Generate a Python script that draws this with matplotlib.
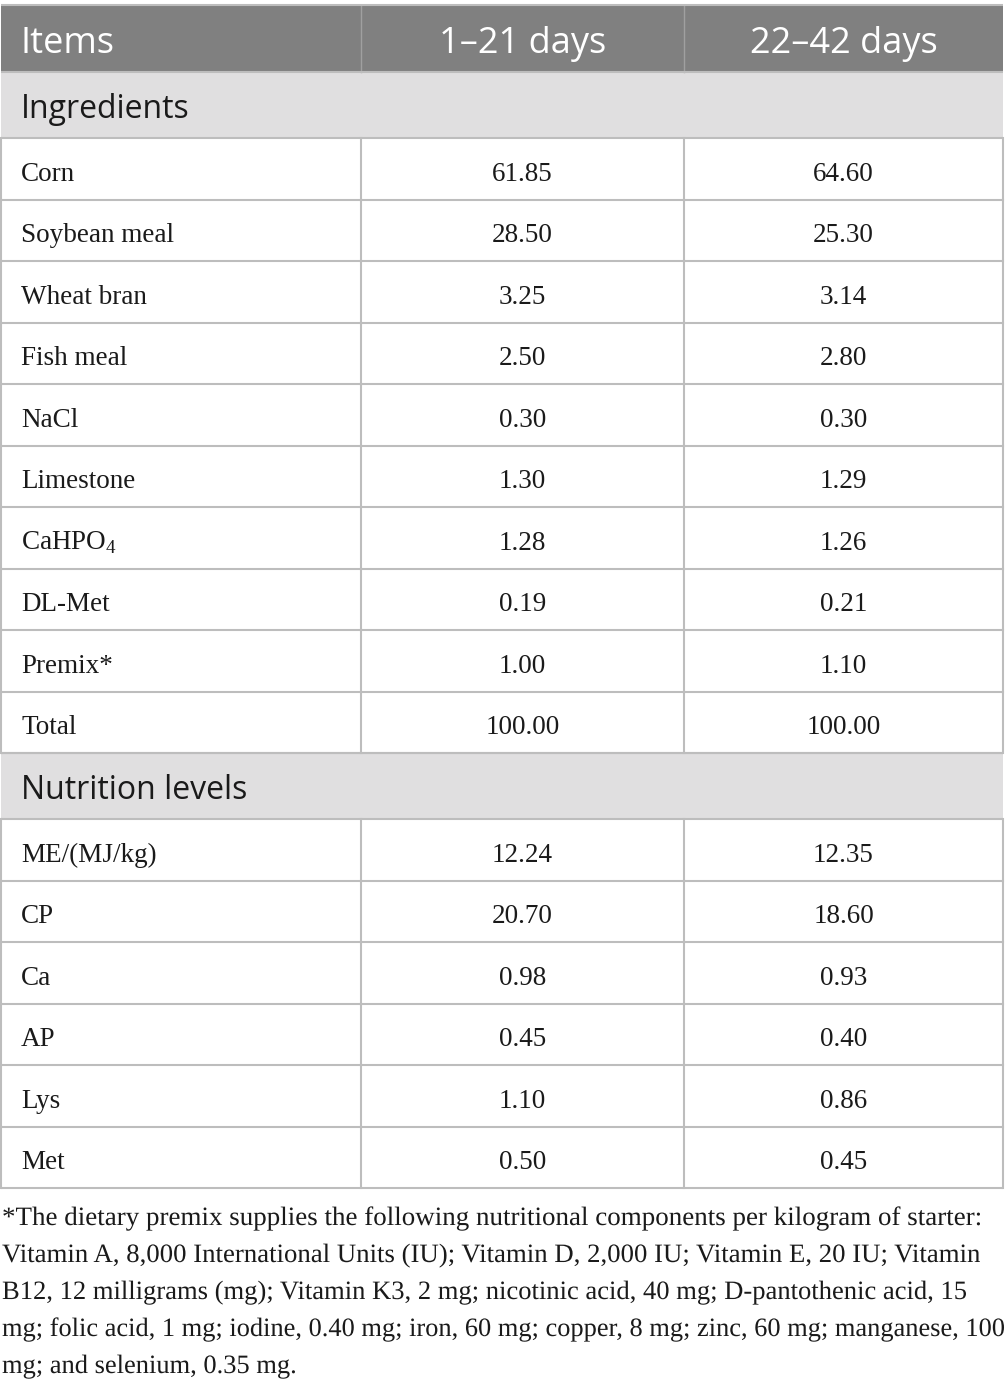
import matplotlib.pyplot as plt
from matplotlib.patches import Rectangle, PathPatch
from matplotlib.textpath import TextPath
from matplotlib.font_manager import FontProperties
import matplotlib.transforms as mtransforms

plt.rcParams['mathtext.fontset'] = 'custom'
plt.rcParams['mathtext.rm'] = 'Liberation Serif'

header = ['Items', '1\u201321 days', '22\u201342 days']

ingredients = ['Corn', 'Soybean meal', 'Wheat bran', 'Fish meal', 'NaCl', 'Limestone',
               'CaHPO$_\\mathregular{4}$', 'DL-Met', 'Premix*', 'Total']
ing_1_21 = ['61.85', '28.50', '3.25', '2.50', '0.30', '1.30', '1.28', '0.19', '1.00', '100.00']
ing_22_42 = ['64.60', '25.30', '3.14', '2.80', '0.30', '1.29', '1.26', '0.21', '1.10', '100.00']

nutrition = ['ME/(MJ/kg)', 'CP', 'Ca', 'AP', 'Lys', 'Met']
nut_1_21 = ['12.24', '20.70', '0.98', '0.45', '1.10', '0.50']
nut_22_42 = ['12.35', '18.60', '0.93', '0.40', '0.86', '0.45']

footnote = [
    '*The dietary premix supplies the following nutritional components per kilogram of starter:',
    'Vitamin A, 8,000 International Units (IU); Vitamin D, 2,000 IU; Vitamin E, 20 IU; Vitamin',
    'B12, 12 milligrams (mg); Vitamin K3, 2 mg; nicotinic acid, 40 mg; D-pantothenic acid, 15',
    'mg; folic acid, 1 mg; iodine, 0.40 mg; iron, 60 mg; copper, 8 mg; zinc, 60 mg; manganese, 100',
    'mg; and selenium, 0.35 mg.',
]
# right end of each footnote line in the reference (px), used to fit the wrapping
foot_ends = [980, 980, 966, 1004, 295]

W, H = 1005, 1388
fig = plt.figure(figsize=(W / 100, H / 100), dpi=100)
ax = fig.add_axes([0, 0, 1, 1])
ax.set_xlim(0, W)
ax.set_ylim(H, 0)
ax.axis('off')

left, right = 1, 1003
col_x = [left, 361, 684, right]
line_c = '#bdbdbd'
head_bg = '#808080'
sec_bg = '#e0dfe0'
txt_c = '#1a1a1a'
sans = 'Open Sans'
serif = 'Liberation Serif'

def hline(y):
    ax.plot([left, right], [y, y], color=line_c, lw=1.5, solid_capstyle='butt')

# header
top, head_h = 5, 67
ax.add_patch(Rectangle((left, top), right - left, head_h, color=head_bg, lw=0))
ax.plot([col_x[1], col_x[1]], [top, top + head_h], color='#a0a0a0', lw=1)
ax.plot([col_x[2], col_x[2]], [top, top + head_h], color='#a0a0a0', lw=1)
ax.text(21, top + 48, header[0], color='white', fontsize=26, family=sans,
        va='baseline', ha='left')
for j in (1, 2):
    ax.text((col_x[j] + col_x[j + 1]) / 2, top + 48, header[j], color='white',
            fontsize=26, family=sans, va='baseline', ha='center')
hline(top)

sec_h, row_h = 66, 61.5

def section(y, title):
    ax.add_patch(Rectangle((left, y), right - left, sec_h, color=sec_bg, lw=0))
    ax.text(21, y + 46, title, color=txt_c, fontsize=23, family=sans,
            va='baseline', ha='left')
    hline(y)
    return y + sec_h

def rows(y, names, a, b):
    for n, v1, v2 in zip(names, a, b):
        hline(y)
        for xx in col_x:
            ax.plot([xx, xx], [y, y + row_h], color=line_c, lw=1.5)
        ax.text(21, y + 42.5, n, fontsize=19.5, family=serif, color=txt_c,
                va='baseline', ha='left')
        ax.text((col_x[1] + col_x[2]) / 2, y + 42.5, v1, fontsize=19.5,
                family=serif, color=txt_c, va='baseline', ha='center')
        ax.text((col_x[2] + col_x[3]) / 2, y + 42.5, v2, fontsize=19.5,
                family=serif, color=txt_c, va='baseline', ha='center')
        y += row_h
    hline(y)
    return y

y = top + head_h
y = section(y, 'Ingredients')
y = rows(y, ingredients, ing_1_21, ing_22_42)
y = section(y, 'Nutrition levels')
y = rows(y, nutrition, nut_1_21, nut_22_42)

# footnote: text paths fitted to the line widths of the reference
fp = FontProperties(family=serif)
fy = 1225
for line, end in zip(footnote, foot_ends):
    tp = TextPath((0, 0), line, size=26.5, prop=fp)
    sx = (end - 2) / tp.get_extents().x1
    tr = mtransforms.Affine2D().scale(sx, -1).translate(2, fy) + ax.transData
    ax.add_patch(PathPatch(tp, transform=tr, color=txt_c, lw=0))
    fy += 37

fig.savefig('out.png', dpi=100)
